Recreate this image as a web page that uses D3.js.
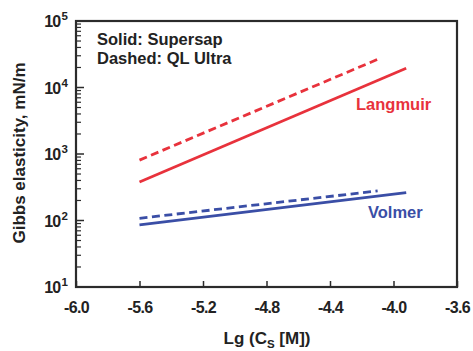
<!DOCTYPE html>
<html>
<head>
<meta charset="utf-8">
<script src="https://cdn.jsdelivr.net/npm/d3@7"></script>
<style>
  html, body { margin: 0; padding: 0; background: #fff; }
  svg { display: block; font-family: Arial, "Liberation Sans", sans-serif; }
</style>
</head>
<body>
<svg id="chart" width="473" height="351"></svg>
<script>
// Gibbs elasticity vs. log surfactant concentration (two isotherm models, two surfactants)
const xTicks = [-6.0, -5.6, -5.2, -4.8, -4.4, -4.0, -3.6];
const yTickExps = [1, 2, 3, 4, 5];

const langmuirSupersapX = [-5.6, -3.92];
const langmuirSupersapY = [380, 19500];
const langmuirQLX = [-5.6, -4.10];
const langmuirQLY = [810, 26500];
const volmerSupersapX = [-5.6, -3.92];
const volmerSupersapY = [86, 262];
const volmerQLX = [-5.6, -4.10];
const volmerQLY = [108, 278];

const red = "#e8323c", blue = "#3a4ea6";
const series = [
  { x: langmuirSupersapX, y: langmuirSupersapY, color: red, dash: null },
  { x: langmuirQLX, y: langmuirQLY, color: red, dash: "8,4.5" },
  { x: volmerSupersapX, y: volmerSupersapY, color: blue, dash: null },
  { x: volmerQLX, y: volmerQLY, color: blue, dash: "8,4.5" }
];

const m = { left: 76, right: 457, top: 21, bottom: 287 };
const svg = d3.select("#chart");
const axisColor = "#2b2b2b";
const textColor = "#222";
const labelFont = "16px";

const x = d3.scaleLinear().domain([-6.0, -3.6]).range([m.left, m.right]);
const y = d3.scaleLog().domain([10, 1e5]).range([m.bottom, m.top]);

// data lines
const line = d3.line().x(d => x(d[0])).y(d => y(d[1]));
series.forEach(s => {
  svg.append("path")
    .datum(d3.zip(s.x, s.y))
    .attr("d", line)
    .attr("fill", "none")
    .attr("stroke", s.color)
    .attr("stroke-width", 2.8)
    .attr("stroke-dasharray", s.dash);
});

// bottom axis: ticks point inward, labels with a plain hyphen as minus sign
const xAxis = d3.axisBottom(x).tickValues(xTicks).tickSizeInner(-6).tickSizeOuter(0)
  .tickFormat(d => d.toFixed(1));
const gx = svg.append("g").attr("transform", `translate(0,${m.bottom})`).call(xAxis);
gx.select(".domain").remove();
gx.selectAll(".tick line").attr("stroke", axisColor).attr("stroke-width", 1.5);
gx.selectAll(".tick text")
  .attr("y", 26).attr("dy", null)
  .attr("fill", textColor)
  .style("font-size", labelFont).style("font-weight", "bold")
  .style("letter-spacing", "-0.6px");

// left axis: decade major ticks and minor ticks, pointing inward
const minorVals = [];
for (let e = 1; e < 5; e++) for (let k = 2; k <= 9; k++) minorVals.push(k * Math.pow(10, e));
const gy = svg.append("g");
gy.selectAll("line.minor").data(minorVals).join("line")
  .attr("x1", m.left).attr("x2", m.left + 5)
  .attr("y1", d => y(d)).attr("y2", d => y(d))
  .attr("stroke", axisColor).attr("stroke-width", 1.2);
gy.selectAll("line.major").data(yTickExps).join("line")
  .attr("x1", m.left).attr("x2", m.left + 8)
  .attr("y1", d => y(Math.pow(10, d))).attr("y2", d => y(Math.pow(10, d)))
  .attr("stroke", axisColor).attr("stroke-width", 1.5);
const yl = gy.selectAll("text.ylab").data(yTickExps).join("text")
  .attr("x", m.left - 9).attr("y", d => y(Math.pow(10, d)) + 6)
  .attr("text-anchor", "end")
  .attr("fill", textColor)
  .style("font-size", labelFont).style("font-weight", "bold")
  .style("letter-spacing", "-0.8px");
yl.append("tspan").text("10");
yl.append("tspan").attr("dx", 1).attr("dy", -7).style("font-size", "11.5px").text(d => d);

// frame
svg.append("rect")
  .attr("x", m.left).attr("y", m.top)
  .attr("width", m.right - m.left).attr("height", m.bottom - m.top)
  .attr("fill", "none").attr("stroke", axisColor).attr("stroke-width", 2.2);

// axis titles
svg.append("text")
  .attr("transform", `translate(25,${(m.top + m.bottom) / 2 - 1}) rotate(-90)`)
  .attr("text-anchor", "middle")
  .attr("fill", textColor)
  .style("font-size", "17px").style("font-weight", "bold")
  .text("Gibbs elasticity, mN/m");

const xt = svg.append("text")
  .attr("x", 267).attr("y", 344)
  .attr("text-anchor", "middle")
  .attr("fill", textColor)
  .style("font-size", "17px").style("font-weight", "bold");
xt.append("tspan").text("Lg (C");
xt.append("tspan").attr("dy", 4).style("font-size", "11.5px").text("S");
xt.append("tspan").attr("dy", -4).text(" [M])");

// legend notes
svg.append("text").attr("x", 97).attr("y", 45)
  .attr("fill", textColor).style("font-size", "16.5px").style("font-weight", "bold")
  .text("Solid: Supersap");
svg.append("text").attr("x", 97).attr("y", 64)
  .attr("fill", textColor).style("font-size", "16.5px").style("font-weight", "bold")
  .text("Dashed: QL Ultra");

// model labels
svg.append("text").attr("x", 356).attr("y", 110)
  .attr("fill", red).style("font-size", "16.5px").style("font-weight", "bold")
  .text("Langmuir");
svg.append("text").attr("x", 368).attr("y", 218)
  .attr("fill", blue).style("font-size", "16.5px").style("font-weight", "bold")
  .text("Volmer");
</script>
</body>
</html>
